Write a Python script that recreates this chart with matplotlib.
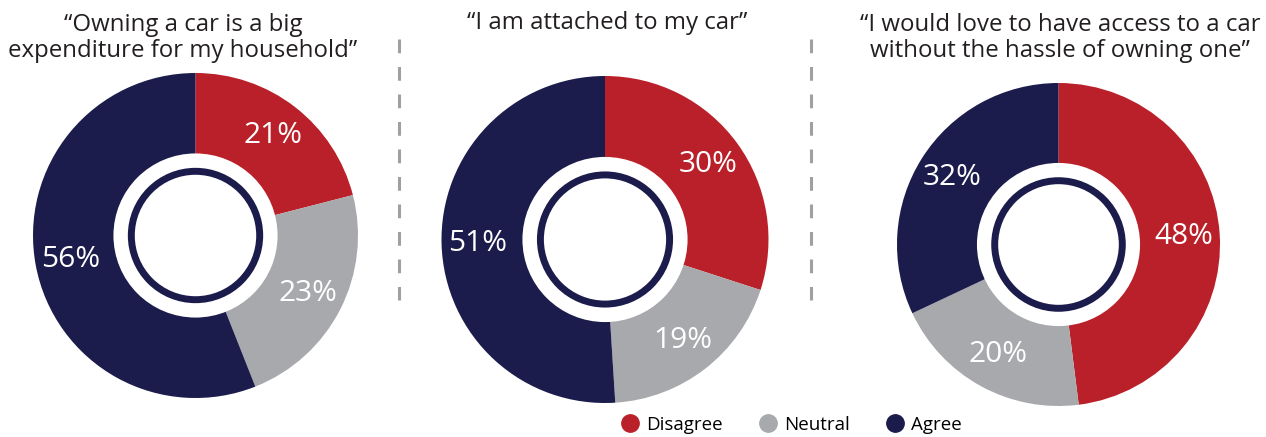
import matplotlib
matplotlib.use("Agg")
import matplotlib.pyplot as plt
from matplotlib.lines import Line2D
from matplotlib.patches import Circle

plt.rcParams['font.family'] = ['Open Sans', 'DejaVu Sans']

# --- data ---
categories = ['Disagree', 'Neutral', 'Agree']
colors = ['#BA2029', '#A8A9AD', '#1B1C4B']

titles = [
    '\u201cOwning a car is a big\nexpenditure for my household\u201d',
    '\u201cI am attached to my car\u201d',
    '\u201cI would love to have access to a car\nwithout the hassle of owning one\u201d',
]
expenditure = [21, 23, 56]
attached = [30, 19, 51]
access = [48, 20, 32]
series = [expenditure, attached, access]

# --- layout (pixels) ---
W, H = 1266, 437
donuts = [(195.5, 235.5, 162.5), (605, 239.5, 163.5), (1058.5, 244.5, 161.5)]
title_pos = [(183, 38), (607, 23), (1060, 38)]
dividers = [399, 811]

fig = plt.figure(figsize=(W / 100, H / 100), dpi=100)

for vals, (cx, cy, r) in zip(series, donuts):
    ax = fig.add_axes([(cx - r) / W, (H - cy - r) / H, 2 * r / W, 2 * r / H])
    ax.pie(vals, colors=colors, startangle=90, counterclock=False,
           radius=1.0, autopct=lambda p: f'{p:.0f}%', pctdistance=0.78,
           textprops=dict(color='white', fontsize=21.5),
           wedgeprops=dict(linewidth=0))
    ax.add_patch(Circle((0, 0), 0.505, facecolor='white', edgecolor='none', zorder=3))
    ax.add_patch(Circle((0, 0), 0.395, facecolor='none', edgecolor=colors[2],
                        linewidth=5, zorder=4))
    ax.set_xlim(-1, 1)
    ax.set_ylim(-1, 1)
    ax.set_aspect('auto')
    ax.axis('off')

for t, (tx, ty) in zip(titles, title_pos):
    fig.text(tx / W, 1 - ty / H, t, ha='center', va='center', fontsize=17.3,
             color='#231F20', linespacing=1.12)

for x in dividers:
    fig.add_artist(Line2D([x / W, x / W], [1 - 39 / H, 1 - 300 / H],
                          color='#A0A0A2', linewidth=2.2,
                          dashes=(4.5, 4.5)))

handles = [Line2D([], [], marker='o', linestyle='', markersize=12.5,
                  markerfacecolor=c, markeredgecolor=c) for c in colors]
fig.legend(handles, categories, loc='center left', ncol=3, frameon=False,
           bbox_to_anchor=(621 / W, 1 - 425 / H), fontsize=13.5,
           handletextpad=0.35, columnspacing=1.9, handlelength=1.0,
           borderpad=0, borderaxespad=0)

fig.savefig('out.png', dpi=100)
